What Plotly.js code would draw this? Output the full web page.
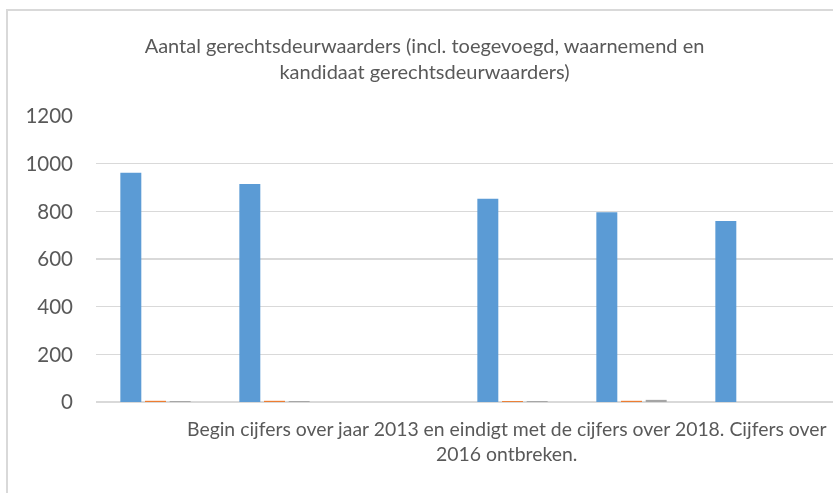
<!DOCTYPE html>
<html>
<head>
<meta charset="utf-8">
<script src="https://cdn.plot.ly/plotly-3.0.1.min.js"></script>
<style>
  html, body { margin: 0; padding: 0; background: #ffffff; overflow: hidden; }
  #frame { position: absolute; left: 6px; top: 9px; width: 900px; height: 600px;
           border-left: 2px solid #D9D9D9; border-top: 2px solid #D9D9D9; }
  #wrap { position: fixed; left: 0; top: 0; width: 833px; height: 493px; overflow: hidden; }
  #chart { position: absolute; left: 0; top: 0; width: 833px; height: 493px; }
</style>
</head>
<body>
<div id="wrap">
<div id="frame"></div>
<div id="chart"></div>
</div>
<script>
// Data
var categories = ['1', '2', '3', '4', '5', '6'];
var seriesBlue   = [962, 915, null, 853, 796, 759];
var seriesOrange = [5, 5, null, 4, 5, 0];
var seriesGray   = [4, 4, null, 4, 9, 0];
var yTicks = [0, 200, 400, 600, 800, 1000, 1200];
var titleText = 'Aantal gerechtsdeurwaarders (incl. toegevoegd, waarnemend en<br>kandidaat gerechtsdeurwaarders)';
var noteText = 'Begin cijfers over jaar 2013 en eindigt met de cijfers over 2018. Cijfers over<br>2016 ontbreken.';

var W = 833, H = 493;
var mL = 96, mR = 0, mT = 116, mB = 91;
var plotW = W - mL - mR;
var catW = 119;
var rangeMax = plotW / catW - 0.5;

var font = 'Lato, "Open Sans", sans-serif';
var textColor = '#595959';

var traces = [
  { type: 'bar', x: categories, y: seriesBlue, name: 'A', marker: { color: '#5B9BD5' } },
  { type: 'bar', x: categories, y: seriesOrange, name: 'B', marker: { color: '#ED7D31' } },
  { type: 'bar', x: categories, y: seriesGray, name: 'C', marker: { color: '#A5A5A5' } }
];

var layout = {
  width: W, height: H,
  margin: { l: mL, r: mR, t: mT, b: mB, pad: 0 },
  paper_bgcolor: 'rgba(0,0,0,0)',
  plot_bgcolor: 'rgba(0,0,0,0)',
  showlegend: false,
  barmode: 'group',
  bargap: 0.378,
  bargroupgap: 0.15,
  title: {
    text: titleText,
    x: 424.5 / W, xref: 'container', xanchor: 'center',
    y: 1 - 53 / H, yref: 'container', yanchor: 'middle',
    font: { family: font, size: 20, color: textColor }
  },
  xaxis: {
    type: 'category',
    range: [-0.5, rangeMax],
    showticklabels: false,
    ticks: '',
    showgrid: false,
    showline: false,
    zeroline: false,
    fixedrange: true
  },
  yaxis: {
    range: [0, 1200],
    tickvals: yTicks,
    ticktext: yTicks.map(String),
    tickfont: { family: font, size: 20.5, color: textColor },
    ticks: '',
    ticklabelstandoff: 22,
    showgrid: true,
    gridcolor: '#D9D9D9',
    gridwidth: 1.5,
    zeroline: true,
    zerolinecolor: '#D9D9D9',
    zerolinewidth: 2,
    showline: false,
    fixedrange: true
  },
  annotations: [{
    text: noteText,
    xref: 'paper', x: (507 - mL) / plotW, xanchor: 'center',
    yref: 'paper', y: -(441 - (H - mB)) / (H - mT - mB), yanchor: 'middle',
    showarrow: false,
    align: 'center',
    font: { family: font, size: 19.4, color: textColor }
  }]
};

Plotly.newPlot('chart', traces, layout, { displayModeBar: false, staticPlot: true });
</script>
</body>
</html>
